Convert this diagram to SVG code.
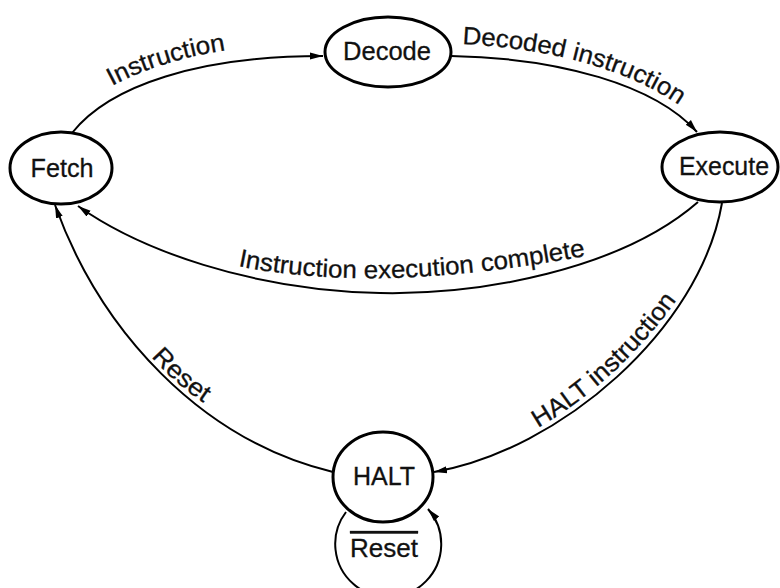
<svg xmlns="http://www.w3.org/2000/svg" width="780" height="588" viewBox="0 0 780 588">
<style>
.node{fill:#fff;stroke:#000;stroke-width:3}
.ntext{font-family:"Liberation Sans",Arial,sans-serif;font-size:26px;fill:#111;text-anchor:middle;stroke:#111;stroke-width:0.3}
.lbl{font-family:"Liberation Sans",Arial,sans-serif;font-size:25px;fill:#111;stroke:#111;stroke-width:0.3}
.edge{fill:none;stroke:#000;stroke-width:2}
</style>
<defs>
<marker id="arr" markerUnits="userSpaceOnUse" markerWidth="14" markerHeight="10" refX="13" refY="5" orient="auto">
<path d="M0,1.5 L13,5 L0,8.5 Z" fill="#000"/>
</marker>
<path id="p1" d="M112,86 Q160,60 233,49"/>
<path id="p2" d="M462,44 Q610,52 690,113"/>
<path id="p3" d="M238,266 Q380,295 590,255"/>
<path id="p4" d="M538,428 Q620,380 679,297"/>
<path id="p5" d="M151,357 Q178,387 213,409"/>
</defs>
<rect width="780" height="588" fill="#fff"/>
<g id="connectors">
<path class="edge" d="M72,133 C110,85 200,56 323,56" marker-end="url(#arr)"/>
<path class="edge" d="M451,56 C560,58 655,85 697,132" marker-end="url(#arr)"/>
<path class="edge" d="M698,202 C620,270 480,295 380,293 C250,290 140,250 78,206" marker-end="url(#arr)"/>
<path class="edge" d="M722,203 C700,330 560,450 434,472" marker-end="url(#arr)"/>
<path class="edge" d="M333,472 C200,440 100,330 55,205" marker-end="url(#arr)"/>
<path class="edge" d="M346,512 A53,53 0 1 0 428,509" marker-end="url(#arr)"/>
<text class="lbl"><textPath href="#p1" textLength="120" lengthAdjust="spacingAndGlyphs">Instruction</textPath></text>
<text class="lbl"><textPath href="#p2" textLength="228" lengthAdjust="spacingAndGlyphs">Decoded instruction</textPath></text>
<text class="lbl"><textPath href="#p3" textLength="350" lengthAdjust="spacingAndGlyphs">Instruction execution complete</textPath></text>
<text class="lbl"><textPath href="#p4" textLength="190" lengthAdjust="spacingAndGlyphs">HALT instruction</textPath></text>
<text class="lbl"><textPath href="#p5" textLength="70" lengthAdjust="spacingAndGlyphs">Reset</textPath></text>
<text class="ntext" x="384" y="557" text-decoration="overline" textLength="68" lengthAdjust="spacingAndGlyphs">Reset</text>
</g>
<g id="fetch">
<ellipse class="node" cx="61" cy="168" rx="51" ry="36"/>
<text class="ntext" x="62" y="177" textLength="63" lengthAdjust="spacingAndGlyphs">Fetch</text>
</g>
<g id="decode">
<ellipse class="node" cx="388" cy="52" rx="63" ry="35"/>
<text class="ntext" x="387" y="60" textLength="88" lengthAdjust="spacingAndGlyphs">Decode</text>
</g>
<g id="execute">
<ellipse class="node" cx="720" cy="167" rx="58" ry="35"/>
<text class="ntext" x="724" y="175" textLength="90" lengthAdjust="spacingAndGlyphs">Execute</text>
</g>
<g id="halt">
<ellipse class="node" cx="383" cy="477" rx="50" ry="45"/>
<text class="ntext" x="384" y="485" textLength="62" lengthAdjust="spacingAndGlyphs">HALT</text>
</g>
</svg>
